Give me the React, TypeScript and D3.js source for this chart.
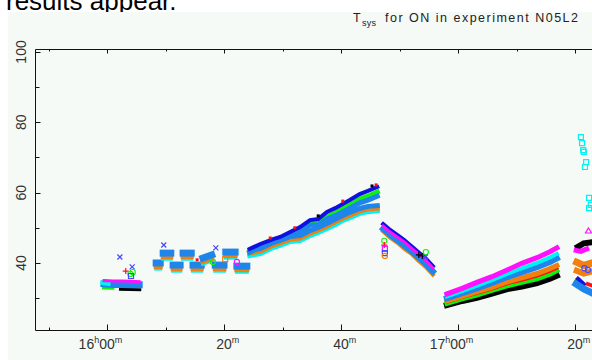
import React from "react";
import * as d3 from "d3";

// ---- axis definitions (time = minutes after 16h00m UT) ----
const X_MIN = -12.31;
const X_MAX = 84.27;
const Y_MIN = 20.8;
const Y_MAX = 100.85;
const xTickMinutes = [-10, 0, 10, 20, 30, 40, 50, 60, 70, 80];
const xLabelMinutes = [0, 20, 40, 60, 80];
const xLabelHour = ["16", "", "", "17", ""];
const xLabelMin = ["00", "20", "40", "00", "20"];
const yTicks = [30, 40, 50, 60, 70, 80, 90, 100];
const yLabels = [40, 60, 80, 100];

// ---- scan 1 (16h00m) ----
const s1T = [-0.5, 1.0, 2.5, 4.0, 5.5];
const s1Db = [34.1, 33.9, 33.9, 33.8, 33.8];
const s1Mg = [35.0, 34.9, 34.9, 34.8, 34.7];
const s1BkT = [2.3, 5.6];
const s1Bk = [32.5, 32.4];
const s1GrT = [-0.6, 1.0];
const s1Gr = [32.9, 32.8];
const s1CyT = [-0.7, 0.2];
const s1Cy = [34.4, 34.2];

// ---- short scans 16h08m-16h24m ----
const blobT0 = [8.4, 9.6, 11.3, 13.0, 14.7, 16.4, 18.5, 20.3, 22.2];
const blobT1 = [9.1, 10.9, 12.5, 14.4, 16.1, 17.9, 20.0, 21.9, 23.9];
const blobDb0 = [40.0, 42.8, 39.4, 42.8, 39.4, 41.4, 39.4, 43.1, 39.1];
const blobDb1 = [40.0, 42.8, 39.4, 42.8, 39.4, 42.3, 39.4, 43.1, 39.1];
const blobOr0 = [39.0, 41.8, 38.4, 41.8, 38.4, 40.4, 38.4, 42.1, 38.1];
const blobOr1 = [39.0, 41.8, 38.4, 41.8, 38.4, 41.3, 38.4, 42.1, 38.1];
const blobCy0 = [38.4, 41.2, 37.8, 41.2, 37.8, 39.8, 37.8, 41.5, 37.5];
const blobCy1 = [38.4, 41.2, 37.8, 41.2, 37.8, 40.7, 37.8, 41.5, 37.5];

// ---- long rising scan 16h24m-16h46m ----
const s3T = [24.4, 26.2, 28.4, 29.6, 31.3, 33.0, 34.7, 36.1, 37.6, 39.0, 40.3, 41.5, 43.2, 44.6, 46.2];
const s3Dk = [44.0, 45.4, 46.8, 47.4, 48.8, 50.2, 52.2, 52.5, 54.5, 55.6, 56.8, 57.9, 59.6, 60.5, 61.6];
const s3Gr = [43.1, 44.5, 46.0, 46.5, 48.0, 49.4, 51.1, 51.4, 53.1, 54.2, 55.4, 56.5, 58.2, 59.0, 60.2];
const s3Db1 = [43.1, 44.5, 46.0, 46.5, 47.7, 49.1, 50.8, 50.8, 52.5, 53.4, 54.5, 55.6, 57.1, 57.9, 59.0];
const s3Db2 = [43.6, 44.1, 45.8, 46.4, 47.5, 47.8, 49.2, 50.1, 51.2, 52.4, 53.5, 54.4, 55.5, 56.1, 56.3];
const s3Or = [42.8, 43.4, 45.1, 45.7, 46.8, 47.1, 48.5, 49.4, 50.5, 51.7, 52.8, 53.6, 54.8, 55.4, 55.6];
const s3Cy = [42.1, 42.7, 44.4, 45.0, 46.1, 46.4, 47.8, 48.7, 49.8, 50.9, 52.1, 52.9, 54.1, 54.6, 54.9];

// ---- falling scan 16h47m-16h56m ----
const s4T = [47.2, 48.4, 49.6, 50.8, 52.0, 53.2, 54.4, 55.7];
const s4Dk = [51.1, 49.4, 48.0, 46.5, 44.8, 43.1, 41.4, 39.1];
const s4Mg = [50.5, 48.8, 47.4, 46.0, 44.3, 42.6, 40.9, 38.6];
const s4Db = [49.7, 48.0, 46.5, 45.0, 43.4, 41.6, 39.9, 37.6];
const s4Or = [49.0, 47.2, 45.8, 44.1, 42.7, 40.7, 39.0, 36.7];

// ---- rising scan 16h58m-17h17m ----
const s5T = [58.1, 60.7, 63.2, 65.8, 68.4, 70.9, 73.5, 75.7, 76.9];
const s5Mg = [31.2, 32.8, 34.5, 36.1, 38.0, 39.9, 41.5, 43.2, 44.3];
const s5Cy = [30.5, 32.0, 33.5, 35.1, 36.9, 38.5, 40.0, 41.6, 42.6];
const s5Db = [30.0, 31.4, 32.8, 34.3, 36.0, 37.4, 38.8, 40.3, 41.3];
const s5Or = [29.2, 30.5, 31.8, 33.1, 34.6, 35.8, 37.0, 38.4, 39.3];
const s5Rd = [28.9, 30.2, 31.3, 32.6, 34.1, 35.1, 36.3, 37.6, 38.5];
const s5Gr = [28.5, 29.8, 30.9, 32.2, 33.5, 34.5, 35.5, 36.8, 37.8];
const s5Bk = [28.0, 29.2, 30.1, 31.3, 32.6, 33.3, 34.3, 35.5, 36.4];

// ---- last scan 17h20m (cut off at the right) ----
const s6BkT = [80.5, 81.5, 82.9];
const s6Bk = [44.6, 45.6, 45.9];
const s6MgT = [80.2, 81.0, 82.0];
const s6Mg = [43.6, 43.3, 44.0];
const s6OrT = [80.3, 81.5, 82.9];
const s6Or1 = [40.2, 39.3, 40.0];
const s6Or2 = [37.8, 37.0, 37.6];
const s6DbT = [80.2, 81.5, 82.9];
const s6Db = [34.0, 32.6, 31.5];
const s6GrT = [80.3, 81.2];
const s6Gr = [34.8, 33.8];
const s6RdT = [82.2, 82.9];
const s6Rd = [34.0, 33.6];
const s6DkT = [80.5, 81.5];
const s6Dk = [35.5, 34.0];

// ---- individual markers ----
const markT = [2.2, 3.2, 4.3, 4.4, 4.0, 4.1, 9.7, 18.6, 15.4, 20.2, 18.1, 22.2,
  47.4, 47.4, 47.5, 47.5, 47.5, 53.3, 53.9, 54.5, 54.4,
  27.9, 32.1, 36.1, 40.3, 45.3, 46.0,
  81.0, 81.2, 81.4, 81.5, 81.9, 81.7, 82.4, 82.7, 82.4, 82.3, 81.6, 82.2];
const markV = [41.7, 37.7, 38.9, 37.4, 36.9, 36.3, 45.1, 44.3, 40.9, 41.1, 40.3, 40.3,
  46.3, 45.1, 44.0, 42.8, 42.0, 42.3, 42.0, 43.1, 41.7,
  47.1, 50.0, 53.4, 57.6, 61.9, 62.2,
  75.8, 74.1, 72.1, 71.6, 68.7, 67.3, 58.5, 56.5, 55.6, 49.1, 38.5, 38.0];
const markShape = ["x", "+", "x", "o", "o", "s", "x", "x", "dot", "s", "o", "o",
  "o", "+", "s", "s", "o", "+", "+", "o", "x",
  "dot", "dot", "dot", "dot", "dot", "dot",
  "s", "s", "s", "s", "s", "s", "s", "s", "s", "t", "o", "o"];
const markColor = ["bl", "rd", "bl", "gr", "gr", "bl", "bl", "bl", "rd", "or", "gr", "mg",
  "gr", "rd", "mg", "bl", "or", "bk", "bk", "gr", "bl",
  "rd", "rd", "bk", "rd", "bk", "rd",
  "cy", "cy", "cy", "cy", "cy", "cy", "cy", "cy", "cy", "mg", "bl", "bl"];

const COLORS: Record<string, string> = {
  dk: "#1010e0",
  db: "#1e86ea",
  or: "#f2800e",
  cy: "#00f2f2",
  mg: "#ff10ff",
  gr: "#10f010",
  rd: "#ff1010",
  bk: "#000000",
  bl: "#4848ff",
};

type S = { t: number[]; v: number[]; c: string; w?: number };

function buildSeries(): S[] {
  const out: S[] = [];
  // scan 1
  out.push({ t: s1GrT, v: s1Gr, c: "gr", w: 3 });
  out.push({ t: s1BkT, v: s1Bk, c: "bk", w: 3 });
  out.push({ t: s1T, v: s1Db, c: "db", w: 7 });
  out.push({ t: s1CyT, v: s1Cy, c: "cy", w: 5 });
  out.push({ t: s1T, v: s1Mg, c: "mg", w: 3 });
  // short scans
  blobT0.forEach((t0, i) => {
    const tt = [t0, blobT1[i]];
    out.push({ t: tt, v: [blobCy0[i], blobCy1[i]], c: "cy", w: 4 });
    out.push({ t: tt, v: [blobOr0[i], blobOr1[i]], c: "or", w: 5 });
    out.push({ t: tt, v: [blobDb0[i], blobDb1[i]], c: "db", w: 7 });
  });
  // scan 3
  out.push({ t: s3T, v: s3Cy, c: "cy" });
  out.push({ t: s3T, v: s3Or, c: "or" });
  out.push({ t: s3T, v: s3Gr, c: "gr" });
  out.push({ t: s3T, v: s3Db2, c: "db" });
  out.push({ t: s3T, v: s3Db1, c: "db" });
  out.push({ t: s3T, v: s3Dk, c: "dk", w: 4 });
  // scan 4
  out.push({ t: s4T, v: s4Or, c: "or", w: 4 });
  out.push({ t: s4T, v: s4Db, c: "db", w: 6 });
  out.push({ t: s4T, v: s4Dk, c: "dk", w: 4 });
  out.push({ t: s4T, v: s4Mg, c: "mg", w: 3 });
  // scan 5
  out.push({ t: s5T, v: s5Bk, c: "bk", w: 6 });
  out.push({ t: s5T, v: s5Gr, c: "gr", w: 5 });
  out.push({ t: s5T, v: s5Rd, c: "rd", w: 3 });
  out.push({ t: s5T, v: s5Or, c: "or", w: 5 });
  out.push({ t: s5T, v: s5Db, c: "db", w: 6 });
  out.push({ t: s5T, v: s5Cy, c: "cy", w: 4 });
  out.push({ t: s5T, v: s5Mg, c: "mg", w: 5 });
  // scan 6
  out.push({ t: s6BkT, v: s6Bk, c: "bk", w: 6 });
  out.push({ t: s6MgT, v: s6Mg, c: "mg", w: 5 });
  out.push({ t: s6OrT, v: s6Or1, c: "or", w: 7 });
  out.push({ t: s6OrT, v: s6Or2, c: "or", w: 6 });
  out.push({ t: s6GrT, v: s6Gr, c: "gr", w: 5 });
  out.push({ t: s6DkT, v: s6Dk, c: "dk", w: 4 });
  out.push({ t: s6DbT, v: s6Db, c: "db", w: 7 });
  out.push({ t: s6RdT, v: s6Rd, c: "rd", w: 4 });
  return out;
}

function markerPath(shape: string, cx: number, cy: number): string {
  const r = 2.5;
  switch (shape) {
    case "x":
      return `M${cx - r},${cy - r}L${cx + r},${cy + r}M${cx - r},${cy + r}L${cx + r},${cy - r}`;
    case "+":
      return `M${cx - 3},${cy}L${cx + 3},${cy}M${cx},${cy - 3}L${cx},${cy + 3}`;
    case "s":
      return `M${cx - r},${cy - r}h${2 * r}v${2 * r}h${-2 * r}Z`;
    case "t":
      return `M${cx},${cy - 3}L${cx + 3},${cy + 2}L${cx - 3},${cy + 2}Z`;
    default:
      return "";
  }
}

export default function App() {
  const x = d3.scaleLinear().domain([X_MIN, X_MAX]).range([35, 600]);
  const y = d3.scaleLinear().domain([Y_MIN, Y_MAX]).range([330.5, 49]);
  const line = d3
    .line<[number, number]>()
    .x((d) => x(d[0]))
    .y((d) => y(d[1]));
  const series = buildSeries();
  const font = "'Liberation Sans', Arial, Helvetica, sans-serif";
  const plotL = 35.5;
  const plotT = 49.5;
  const plotB = 330.5;

  return (
    <svg
      width={592}
      height={360}
      style={{ position: "absolute", left: 0, top: 0, display: "block" }}
    >
      <rect x={0} y={0} width={592} height={360} fill="#ffffff" />
      <text x={6} y={10} fontFamily={font} fontSize={26} fill="#000">
        results appear.
      </text>
      <rect x={8} y={12} width={584} height={348} fill="#f5faf6" />
      <defs>
        <clipPath id="plot">
          <rect x={36} y={50} width={560} height={280} />
        </clipPath>
      </defs>

      <g clipPath="url(#plot)">
        {series.map((s, i) => (
          <path
            key={i}
            d={line(s.t.map((t, j) => [t, s.v[j]] as [number, number])) || ""}
            fill="none"
            stroke={COLORS[s.c]}
            strokeWidth={s.w ?? 5}
            strokeLinecap="square"
            strokeLinejoin="miter"
          />
        ))}
        {markT.map((t, i) => {
          const cx = x(t);
          const cy = y(markV[i]);
          const col = COLORS[markColor[i]];
          const sh = markShape[i];
          if (sh === "o")
            return <circle key={"m" + i} cx={cx} cy={cy} r={2.6} fill="none" stroke={col} strokeWidth={1.1} />;
          if (sh === "dot")
            return <rect key={"m" + i} x={cx - 1.5} y={cy - 1.5} width={3} height={3} fill={col} />;
          return (
            <path key={"m" + i} d={markerPath(sh, cx, cy)} fill="none" stroke={col} strokeWidth={1.2} />
          );
        })}
      </g>

      {/* frame */}
      <g stroke="#111" strokeWidth={1} fill="none">
        <path d={`M${plotL},${plotT}H592`} />
        <path d={`M${plotL},${plotT}V${plotB}H592`} />
        {xTickMinutes.map((m) => {
          const major = xLabelMinutes.includes(m);
          const xx = Math.round(x(m)) + 0.5;
          return (
            <g key={"xt" + m}>
              <path d={`M${xx},${plotB}v${major ? -6 : -3}`} />
              <path d={`M${xx},${plotT}v${major ? 4 : 2}`} />
            </g>
          );
        })}
        {yTicks.map((v) => {
          const major = yLabels.includes(v);
          const yy = Math.round(y(v)) + 0.5;
          return <path key={"yt" + v} d={`M${plotL},${yy}h${major ? 5 : 4}`} />;
        })}
      </g>

      {/* y labels */}
      {yLabels.map((v) => (
        <text
          key={"yl" + v}
          transform={`translate(25.5,${y(v)}) rotate(-90)`}
          textAnchor="middle"
          fontFamily={font}
          fontSize={14}
          fill="#333"
        >
          {v}
        </text>
      ))}

      {/* x labels */}
      {xLabelMinutes.map((m, i) => {
        const xx = x(m);
        const half = 7.8;
        return (
          <g key={"xl" + m} fontFamily={font} fill="#333">
            {xLabelHour[i] && (
              <text x={xx - half} y={349} textAnchor="end" fontSize={14}>
                {xLabelHour[i]}
                <tspan fontSize={9} dy={-6}>h</tspan>
              </text>
            )}
            <text x={xx} y={349} textAnchor="middle" fontSize={14}>
              {xLabelMin[i]}
            </text>
            <text x={xx + half} y={343} textAnchor="start" fontSize={9}>
              m
            </text>
          </g>
        );
      })}

      {/* title */}
      <g fontFamily={font} fill="#222">
        <text x={353} y={22} fontSize={12.5}>T</text>
        <text x={362} y={26} fontSize={9} textLength={14} lengthAdjust="spacing">sys</text>
        <text x={385} y={22} fontSize={12.5} textLength={193} lengthAdjust="spacing">
          for ON in experiment N05L2
        </text>
      </g>
    </svg>
  );
}
